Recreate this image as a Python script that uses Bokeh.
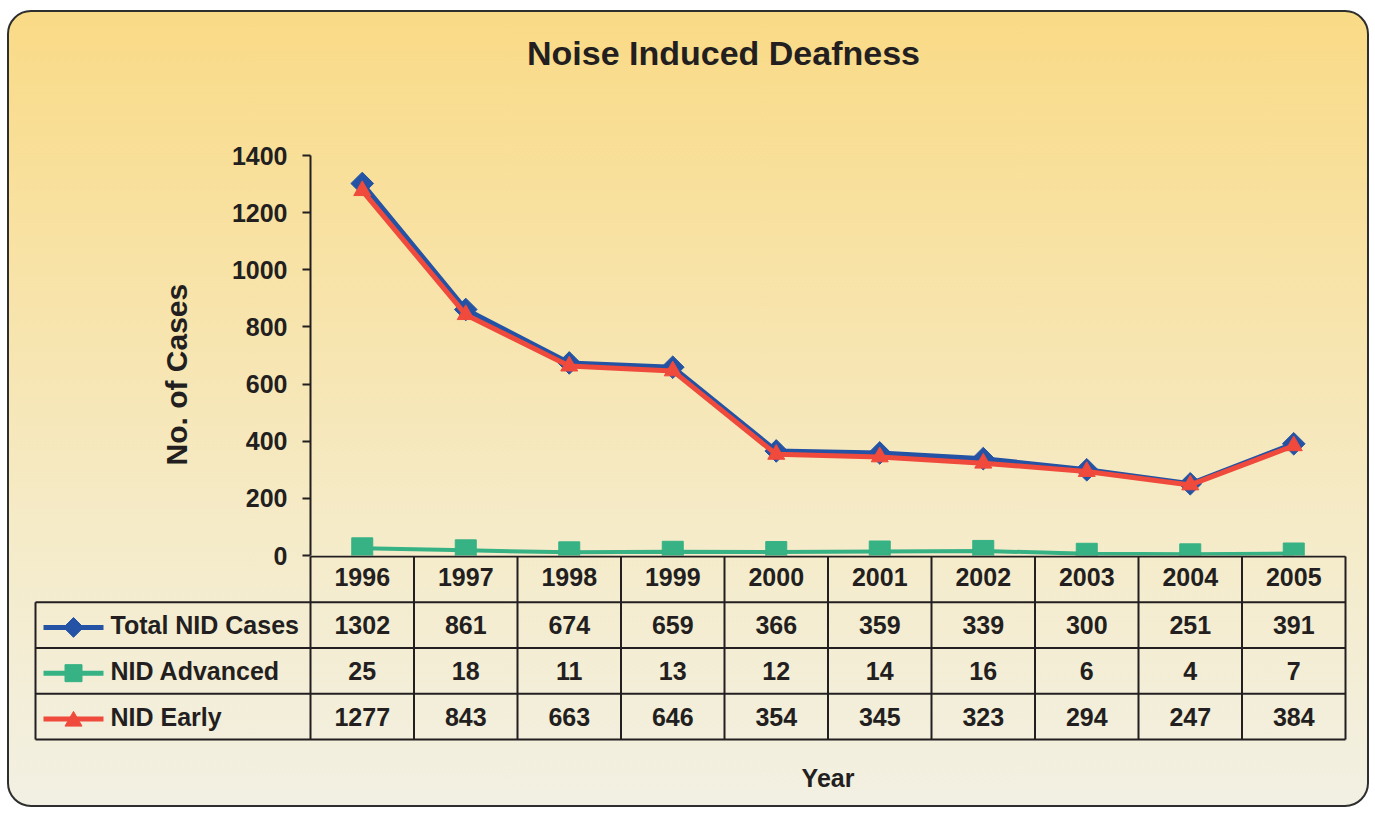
import math
from bokeh.plotting import figure
from bokeh.models import Range1d, FixedTicker, Title
from bokeh.layouts import column
from bokeh.embed import file_html
from bokeh.resources import INLINE
from bokeh.core.properties import value

# ---------------- data ----------------
YEARS = ["1996", "1997", "1998", "1999", "2000", "2001", "2002", "2003", "2004", "2005"]
TOTAL = [1302, 861, 674, 659, 366, 359, 339, 300, 251, 391]
ADVANCED = [25, 18, 11, 13, 12, 14, 16, 6, 4, 7]
EARLY = [1277, 843, 663, 646, 354, 345, 323, 294, 247, 384]
SERIES_NAMES = ["Total NID Cases", "NID Advanced", "NID Early"]
Y_TICKS = [0, 200, 400, 600, 800, 1000, 1200, 1400]
TITLE = "Noise Induced Deafness"
Y_LABEL = "No. of Cases"
X_LABEL = "Year"

# ---------------- style / layout ----------------
FONT = "Liberation Sans"
INK = "#231F20"
BLUE = "#2452A4"
GREEN = "#36B284"
RED = "#EF4A3C"

W = 1358
LEFT1 = 301          # chart frame starts at page x 310
RIGHT = 20
COL_PX = 103.5       # px per year column
TOP1 = 10
BOT1 = 20            # room under the chart frame for the "0" label
H1 = 563
Y_PER_PX = 1400 / 400.0
OVERLAP = 20
H2 = 250
LEFT2 = 24           # table frame starts at page x 33
ROW_PX = 45.75

n = len(YEARS)
xc = [i + 0.5 for i in range(n)]
x_end = (W - LEFT1 - RIGHT) / COL_PX

# ---------------- chart figure ----------------
p1 = figure(width=W, height=H1, output_backend="svg", toolbar_location=None,
            x_range=Range1d(0, x_end), y_range=Range1d(0, (H1 - TOP1 - BOT1) * Y_PER_PX),
            x_axis_location=None, min_border_left=LEFT1, min_border_right=RIGHT,
            min_border_top=TOP1, min_border_bottom=BOT1)
p1.frame_align = False
p1.background_fill_alpha = 0
p1.border_fill_alpha = 0
p1.outline_line_color = None
p1.grid.visible = False

ax = p1.yaxis[0]
ax.ticker = FixedTicker(ticks=Y_TICKS)
ax.bounds = (Y_TICKS[0], Y_TICKS[-1])
ax.axis_line_color = INK
ax.axis_line_width = 2
ax.major_tick_line_color = INK
ax.major_tick_line_width = 2
ax.major_tick_out = 8
ax.major_tick_in = 0
ax.minor_tick_line_color = None
ax.major_label_text_font = FONT
ax.major_label_text_font_style = "bold"
ax.major_label_text_font_size = "25px"
ax.major_label_text_color = INK
ax.major_label_standoff = 15

ylab = Title(text=Y_LABEL, align="left", offset=90, standoff=72,
             text_font=FONT, text_font_style="bold", text_font_size="30px", text_color=INK)
p1.add_layout(ylab, "left")

p1.line(xc, ADVANCED, line_color=GREEN, line_width=4)
p1.scatter(xc, ADVANCED, marker="square", size=21, fill_color=GREEN, line_color=GREEN)
p1.line(xc, TOTAL, line_color=BLUE, line_width=5)
p1.scatter(xc, TOTAL, marker="square", angle=math.pi / 4, size=16, fill_color=BLUE, line_color=BLUE)
p1.line(xc, EARLY, line_color=RED, line_width=5)
p1.scatter(xc, EARLY, marker="triangle", size=17, fill_color=RED, line_color=RED)

p1.text(x=[(723 - 310) / COL_PX], y=[(H1 - TOP1 - BOT1 - 30) * Y_PER_PX], text=[TITLE],
        text_font=value(FONT), text_font_style="bold", text_font_size="34px",
        text_color=INK, text_align="center", text_baseline="middle")

# ---------------- table figure ----------------
lx = -(LEFT1 - LEFT2 - 2) / COL_PX      # left border of label column (page x 35)
y_end = 4 + 1.0 / ROW_PX
p2 = figure(width=W, height=H2, output_backend="svg", toolbar_location=None,
            x_range=Range1d(-(LEFT1 - LEFT2) / COL_PX, x_end),
            y_range=Range1d(y_end - H2 / ROW_PX, y_end),
            x_axis_location=None, y_axis_location=None,
            min_border_left=LEFT2, min_border_right=RIGHT, min_border_top=0, min_border_bottom=0)
p2.frame_align = False
p2.margin = (-OVERLAP, 0, 0, 0)
p2.background_fill_alpha = 0
p2.border_fill_alpha = 0
p2.outline_line_color = None
p2.grid.visible = False

x0s, y0s, x1s, y1s = [], [], [], []
for i in range(n + 1):
    x0s.append(i); y0s.append(0); x1s.append(i); y1s.append(4)
x0s.append(lx); y0s.append(0); x1s.append(lx); y1s.append(3)
x0s.append(0); y0s.append(4); x1s.append(n); y1s.append(4)
for r in range(4):
    x0s.append(lx); y0s.append(r); x1s.append(n); y1s.append(r)
p2.segment(x0s, y0s, x1s, y1s, line_color=INK, line_width=2)

p2.text(x=xc, y=[3.55] * n, text=YEARS, text_font=value(FONT), text_font_style="bold",
        text_font_size="25px", text_color=INK, text_align="center", text_baseline="middle")

series = [TOTAL, ADVANCED, EARLY]
colors = [BLUE, GREEN, RED]
for r, (vals, name, col) in enumerate(zip(series, SERIES_NAMES, colors)):
    yy = 2.5 - r
    p2.text(x=xc, y=[yy] * n, text=[str(v) for v in vals], text_font=value(FONT),
            text_font_style="bold", text_font_size="25px", text_color=INK,
            text_align="center", text_baseline="middle")
    p2.text(x=[(110 - 310) / COL_PX], y=[yy], text=[name], text_font=value(FONT),
            text_font_style="bold", text_font_size="25px", text_color=INK,
            text_align="left", text_baseline="middle")
    la, lb = (43 - 310) / COL_PX, (103 - 310) / COL_PX
    p2.line([la, lb], [yy - 0.05, yy - 0.05], line_color=col, line_width=5)
    mx = (la + lb) / 2
    if r == 0:
        p2.scatter([mx], [yy - 0.05], marker="square", angle=math.pi / 4, size=14, fill_color=col, line_color=col)
    elif r == 1:
        p2.scatter([mx], [yy - 0.05], marker="square", size=17, fill_color=col, line_color=col)
    else:
        p2.scatter([mx], [yy - 0.1], marker="triangle", size=17, fill_color=col, line_color=col)

p2.text(x=[n / 2], y=[y_end - 222 / ROW_PX], text=[X_LABEL], text_font=value(FONT),
        text_font_style="bold", text_font_size="25px", text_color=INK,
        text_align="center", text_baseline="middle")

layout = column(p1, p2, spacing=0, styles={
    "background": "linear-gradient(180deg, #F9DA86 0%, #F8E2A4 30%, #F5EBC8 65%, #F2F0E3 100%)",
    "border": "2px solid #2E2E2E",
    "border-radius": "24px",
    "position": "relative",
    "left": "7px",
    "top": "10px",
})

open("out.html", "w").write(file_html(layout, INLINE))
